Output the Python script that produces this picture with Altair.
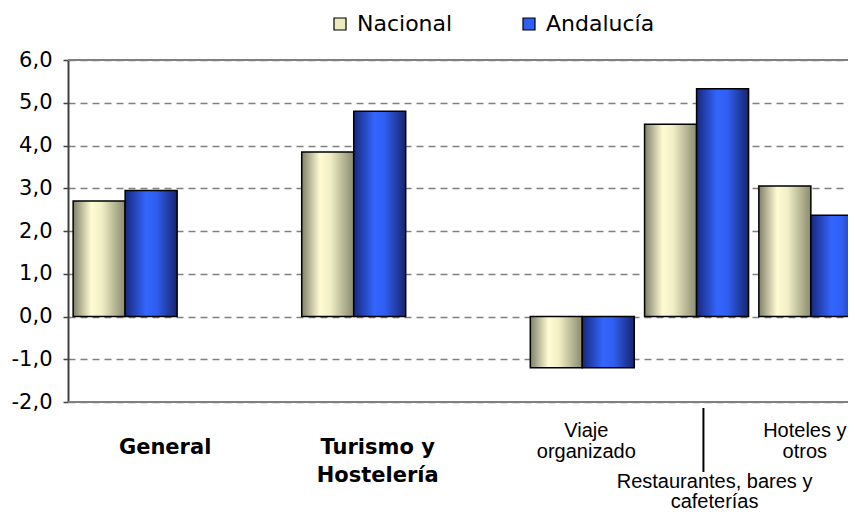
import altair as alt
import pandas as pd

# ---- data ----
categories = ["General", "Turismo y Hostelería", "Viaje organizado",
              "Restaurantes, bares y cafeterías", "Hoteles y otros"]
nacional = [2.7, 3.85, -1.2, 4.5, 3.05]
andalucia = [2.95, 4.8, -1.2, 5.33, 2.37]
series = ["Nacional", "Andalucía"]
label_lines = [["General"], ["Turismo y", "Hostelería"], ["Viaje", "organizado"],
               ["Restaurantes, bares y", "cafeterías"], ["Hoteles y", "otros"]]
y_ticks = [-2, -1, 0, 1, 2, 3, 4, 5, 6]
frame_values = [-2, 6]

# category axis with two empty slots, as in the original
x_domain = [categories[0], " ", categories[1], "  ", categories[2], categories[3], categories[4]]

rows = []
for c, n, a in zip(categories, nacional, andalucia):
    rows.append({"cat": c, "serie": series[0], "valor": n})
    rows.append({"cat": c, "serie": series[1], "valor": a})
df = pd.DataFrame(rows)

W, H = 780, 342          # visible plot area (the last category runs past the page edge)
FULL = 800               # full width of the category range
x_scale = alt.Scale(domain=x_domain, range=[0, FULL], paddingInner=0, paddingOuter=0)
xo_scale = alt.Scale(domain=series, paddingInner=0, paddingOuter=0.099)
y_scale = alt.Scale(domain=[-2, 6], nice=False)

grad_nac = alt.Gradient(gradient="linear", x1=0, x2=1, y1=0, y2=0, stops=[
    alt.GradientStop(offset=0, color="#80806a"),
    alt.GradientStop(offset=0.35, color="#fffcd4"),
    alt.GradientStop(offset=0.55, color="#f1efc6"),
    alt.GradientStop(offset=1, color="#8a8a6e")])
grad_and = alt.Gradient(gradient="linear", x1=0, x2=1, y1=0, y2=0, stops=[
    alt.GradientStop(offset=0, color="#18287a"),
    alt.GradientStop(offset=0.4, color="#3366ff"),
    alt.GradientStop(offset=0.6, color="#2f5ef0"),
    alt.GradientStop(offset=1, color="#16256e")])

y_axis = alt.Axis(
    values=y_ticks, title=None,
    labelExpr="replace(replace(format(datum.value, '.1f'), '.', ','), '\u2212', '-')",
    labelFont="DejaVu Sans", labelFontSize=21, labelColor="black", labelPadding=11,
    tickSize=5, tickColor="#404040", tickWidth=1.5,
    domainColor="#404040", domainWidth=2,
    grid=True, gridColor="#808080", gridDash=[7, 5], gridWidth=1.3,
)

base = alt.Chart(df).encode(
    x=alt.X("cat:N", scale=x_scale, axis=None),
    xOffset=alt.XOffset("serie:N", scale=xo_scale),
    y=alt.Y("valor:Q", scale=y_scale, axis=y_axis, stack=None),
)

bars_nac = base.transform_filter(alt.datum.serie == series[0]).mark_bar(
    fill=grad_nac, stroke="black", strokeWidth=1.5, clip=True)
bars_and = base.transform_filter(alt.datum.serie == series[1]).mark_bar(
    fill=grad_and, stroke="black", strokeWidth=1.5, clip=True)

legend_layer = base.mark_square(opacity=0).encode(
    fill=alt.Fill("serie:N", scale=alt.Scale(domain=series, range=["#ecebbd", "#2f5ef5"]),
                  legend=alt.Legend(
                      title=None, orient="none", legendX=261, legendY=-47,
                      direction="horizontal", symbolType="square", symbolSize=144,
                      symbolStrokeColor="black", symbolStrokeWidth=1.2, symbolOpacity=1,
                      labelFont="DejaVu Sans", labelFontSize=22, labelColor="black",
                      labelOffset=6, columnPadding=65, padding=0)))

# solid frame lines at top and bottom of the plot area
frame = alt.Chart(pd.DataFrame({"valor": frame_values})).mark_rule(
    color="#808080", strokeWidth=2).encode(
    y=alt.Y("valor:Q", scale=y_scale, axis=y_axis), x=alt.value(0), x2=alt.value(W))

# category labels (below the plot)
label_style = [
    dict(dx=40, y=394, lh=28, bold=True),
    dict(dx=24, y=394, lh=28, bold=True),
    dict(dx=4, y=377, lh=21, bold=False),
    dict(dx=18, y=428, lh=20, bold=False),
    dict(dx=-6, y=377, lh=21, bold=False),
]
label_layers = []
for cat, lines, st in zip(categories, label_lines, label_style):
    ldf = pd.DataFrame({"cat": [cat], "txt": [lines]})
    label_layers.append(
        alt.Chart(ldf).mark_text(
            align="center", baseline="alphabetic", dx=st["dx"], lineHeight=st["lh"],
            font="DejaVu Sans" if st["bold"] else "Liberation Sans",
            fontSize=21 if st["bold"] else 20,
            fontWeight="bold" if st["bold"] else "normal", color="black",
        ).encode(x=alt.X("cat:N", scale=x_scale, axis=None), y=alt.value(st["y"]), text="txt")
    )

rule = alt.Chart(pd.DataFrame({"cat": [categories[3]]})).mark_rule(
    color="black", strokeWidth=2).encode(
    x=alt.X("cat:N", scale=x_scale, axis=None, bandPosition=0.56),
    y=alt.value(348), y2=alt.value(412))

chart = alt.layer(bars_nac, bars_and, frame, legend_layer, rule, *label_layers).properties(
    width=W, height=H,
    autosize=alt.AutoSizeParams(type="none"),
    padding={"left": 60, "top": 52, "right": 0, "bottom": 110},
).configure_view(stroke="transparent").configure(background="white")

chart.save("out.html", embed_options={"renderer": "svg", "actions": False})
